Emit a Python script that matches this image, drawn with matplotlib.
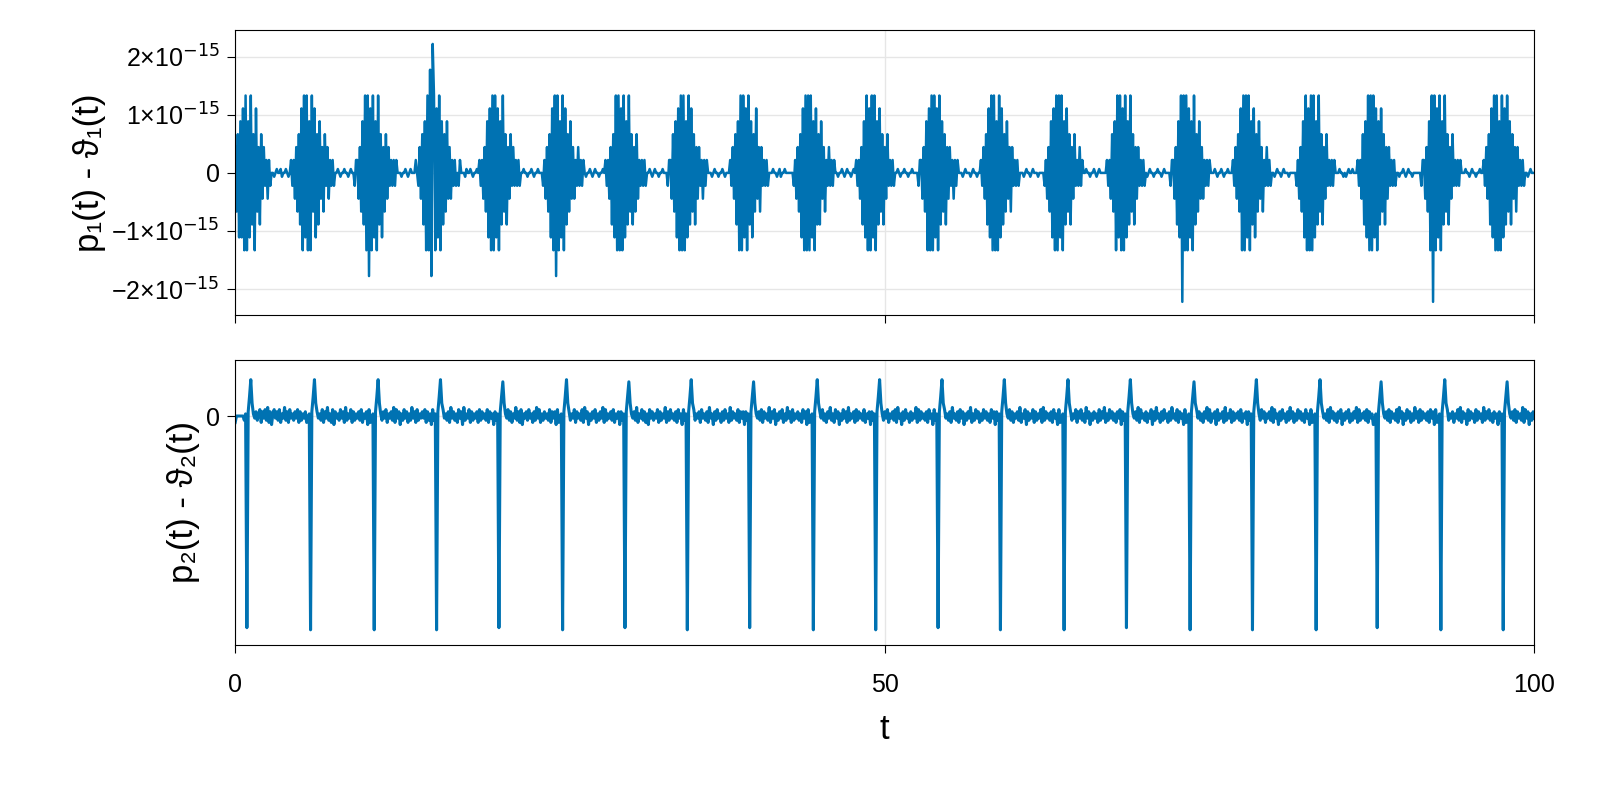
import matplotlib.pyplot as plt
import numpy as np

plt.rcParams['font.family'] = ['Liberation Sans', 'DejaVu Sans']

BLUE = '#0072b2'
EPS = 2.22e-16   # one level in the top panel
STEP = 0.1

event_t = [0.92, 5.85, 10.7, 15.5, 20.3, 25.2, 30.0, 34.8, 39.6, 44.5, 49.3,
           54.1, 58.9, 63.8, 68.6, 73.5, 78.3, 83.2, 87.9, 92.8, 97.6]

# top panel: burst levels around each event, in EPS units
# '1'..'9','A' -> +1..+10, 'a'..'j' -> -1..-10, '0' -> 0
top_bursts = [
    "0110a1b2c3e4e5f6f4e6d3f5c2d3b2a1b1a0",
    "01a1b2c3d5f6e6f4f6c5e3d4b2c3a2b1a1a0",
    "0a11b2c4d6f6h5f6e4f6d3e2c3b2a1a1a100",
    "10a2b3d4f6f8hA6f5e6f4d3c4b2b1a1a0a10",
    "01a1b2c4e5f6f6e5f4d6c3d2b3a2a1a1a0",
    "0a1b2c3e5f6h6f4e6f5d3c4b2b1a2a1a10",
    "01a1b2d3e6f6f5f6e4d6c3d2c3b1a1a1a0",
    "0a11b3c4e5f6f6f4e6d5c3d2b2a1b1a100",
    "01a2b3d4f6f6e5f6d4e3c5b2c2a1a1a0",
    "0a1b2c3e5f6f6f6e4f5d3d4b2c1a2a1a10",
    "01a1b2d4e6f5f6e6f4d5c3d2b3a1a1a0",
    "0a11b2c4f5f6f6e5f6d4c3d2b2a1b1a100",
    "01a2b3d5e6f6f4f6e5d3c4b2c2a1a1a0",
    "0a1b2c4e5f6f6e6f4d5c3d2b3a1a2a10",
    "01a1b3c4f6e6f5f6e4d6c3d2b2a1a1a0",
    "0a11b2d4e6j6f6f5e4f6d3c4b2b1a1a100",
    "01a2b3c5f6f6e6f4d5e3c4b2c1a2a1a0",
    "0a1b2c4e6f5f6f6e4d6c3d2b3a1a1a10",
    "01a1b3d4e6f6f6e5f4d5c3d2b2a1a1a0",
    "0a11b2c4f6j6f5e6f4d6c3d2b3a1a1a100",
    "01a2b3d5e6f6f4f6e5d6c4d3b2c2a1a1a0",
]
# top panel: faint wiggles in the quiet stretch after each burst (units of 0.3 EPS)
top_quiet = [
    "0a01001a0010a0", "010a00100a0100", "0a0010a01000a0", "00a10010a00100",
    "0100a0010a0010", "a0010a0100a001", "010a0100a00100", "0a0100a0010a00",
    "00100a01a00100", "0a0010a0100a01", "010a00100a0010", "0a01000a0100a0",
    "00a0100a01000a", "0100a0010a0100", "a0100a00100a01", "010a0010a00100",
    "0a0100a01000a0", "00100a0a010010", "0a0010a0100a00", "0100a0100a0010",
    "0a01",
]

# lower panel: spike depth and rebound height at each event
bot_spike = [-0.99, -1.0, -1.0, -1.0, -0.99, -1.0, -0.99, -1.0, -0.99, -1.0, -1.0,
             -0.99, -1.0, -1.0, -0.99, -1.0, -1.0, -1.0, -0.99, -1.0, -1.0]
bot_peak = [0.17, 0.17, 0.17, 0.17, 0.16, 0.17, 0.16, 0.17, 0.16, 0.17, 0.17,
            0.17, 0.17, 0.17, 0.17, 0.16, 0.17, 0.17, 0.16, 0.17, 0.16]
# lower panel: small wiggles between events, units of 0.01
bot_noise = [
    "1a2b13c2a3b4c2d13a2b3c1a4b2c3a1b2a3c2b1a2c3d",
    "2a1b3c2a4b1c3d2a1b3a2c4b1a3c2b1a2b3c1a2d3c",
    "1b2a3c1a2b4c3a2d1b3a2c1b4a2c3b1a2a3c2b1d3c",
    "3a1b2c4a2b1c3a2d4b1a3c2b1a2c3b2a1b3c2a1d2c",
    "1a3b2c1a4b2c3d1a2b3a1c2b4a3c1b2a1b3c2a2d3c",
    "2b1a3c2a1b3c4a2d1b2a3c1b2a4c3b1a2b3c1a2d2c",
    "1a2b4c1a3b2c1d3a2b1a3c2b1a4c2b3a1b2c3a1d3c",
    "3b1a2c3a1b2c4a1d2b3a1c2b3a1c4b2a1b3c2a2d2c",
    "1a2b3c2a1b4c2a3d1b2a3c1b4a2c3b1a2b1c3a2d3c",
    "2a3b1c2a4b1c3a2d1b3a2c4b1a2c3b2a1b3c1a2d2c",
    "1b2a3c1a2b3c4a1d2b3a1c2b1a4c3b2a1b2c3a1d3c",
    "3a1b2c4a1b2c3a2d1b2a4c1b3a2c1b3a2b1c3a2d2c",
    "1a3b2c1a2b4c1a3d2b1a3c2b1a3c4b2a1b2c3a1d3c",
    "2b1a3c2a3b1c4a2d1b2a1c3b2a4c1b3a2b1c2a3d2c",
    "1a2b4c3a1b2c1a3d2b4a1c2b3a1c2b4a1b3c2a1d3c",
    "3a2b1c2a4b3c1a2d3b1a2c4b1a3c2b1a2b3c1a2d2c",
    "1b3a2c1a2b4c3a1d2b3a1c2b4a2c1b3a2b1c3a1d3c",
    "2a1b3c4a2b1c2a3d1b2a3c1b2a4c3b1a2b3c2a1d2c",
    "1a2b3c2a1b3c4a2d1b3a2c1b4a2c3b2a1b2c3a2d3c",
    "3b1a2c1a3b4c2a1d3b2a1c3b2a1c4b2a3b1c2a1d2c",
    "1a2b3c2a1b4c3a2d1b2a3",
]


def level(ch):
    if ch == '0':
        return 0
    if ch == 'A':
        return 10
    if ch.isdigit():
        return int(ch)
    return -('abcdefghij'.index(ch) + 1)


n = int(round(100 / STEP)) + 1
t = np.arange(n) * STEP
top = np.zeros(n)
bot = np.zeros(n)

for k, te in enumerate(event_t):
    start = int(round((te - 1.6) / STEP))
    for i, ch in enumerate(top_bursts[k]):
        j = start + i
        if 0 <= j < n:
            top[j] = level(ch) * EPS
    qs = start + len(top_bursts[k])
    for i, ch in enumerate(top_quiet[k]):
        j = qs + i
        if 0 <= j < n:
            top[j] = level(ch) * 0.3 * EPS
    js = int(round(te / STEP))
    pre = [-0.02, 0.01]
    for i, v in enumerate(pre):
        if 0 <= js - 2 + i < n:
            bot[js - 2 + i] = v
    seq = [bot_spike[k], 0.02, 0.09, bot_peak[k], 0.06]
    for i, v in enumerate(seq):
        if js + i < n:
            bot[js + i] = v
    for i, ch in enumerate(bot_noise[k]):
        j = js + 5 + i
        if j < n:
            bot[j] = level(ch) * 0.01
bot[0] = -0.03

fig = plt.figure(figsize=(16, 8), dpi=100)
ax1 = fig.add_axes([0.147, 0.606, 0.812, 0.3565])
ax2 = fig.add_axes([0.147, 0.194, 0.812, 0.356])

ax1.plot(t, top, color=BLUE, lw=1.8)
ax2.plot(t, bot, color=BLUE, lw=2.2)

for ax in (ax1, ax2):
    ax.set_xlim(0, 100)
    ax.set_xticks([0, 50, 100])
    ax.grid(True, color='#e6e6e6', lw=1)
    ax.set_axisbelow(True)
    ax.tick_params(labelsize=18, length=6, direction='out', pad=5)

ax1.set_ylim(-2.45e-15, 2.46e-15)
yt = [-2e-15, -1e-15, 0, 1e-15, 2e-15]
ax1.set_yticks(yt)
ax1.set_yticklabels(['−2×10$^{−15}$', '−1×10$^{−15}$', '0',
                     '1×10$^{−15}$', '2×10$^{−15}$'])
ax1.tick_params(axis='x', labelbottom=False)
ax1.set_ylabel('p₁(t) - ϑ₁(t)', fontsize=25)

ax2.set_ylim(-1.07, 0.262)
ax2.set_yticks([0])
ax2.set_yticklabels(['0'])
ax2.tick_params(axis='x', pad=14)
ax2.set_ylabel('p₂(t) - ϑ₂(t)', fontsize=25)
ax2.set_xlabel('t', fontsize=25, labelpad=12)

fig.align_ylabels([ax1, ax2])
fig.savefig('out.png', dpi=100)
